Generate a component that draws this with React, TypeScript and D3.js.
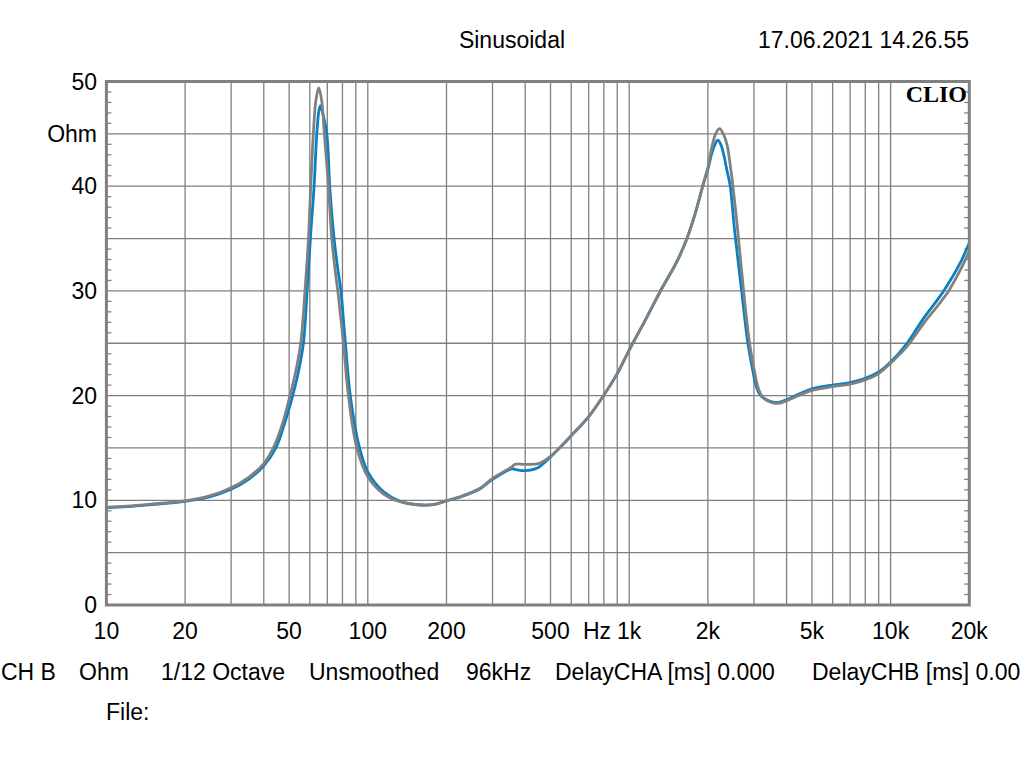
import React from "react";
import * as d3 from "d3";

// ---- data ----
const grayFreq = [10, 12, 15, 20, 25, 30, 35, 40, 43.5, 47, 50.4, 53, 55.4, 57.5, 59.3, 60.5, 61.9, 63.3, 64.9, 66.5, 68.2, 70.7, 72.8, 75.0, 77.2, 80.7, 84.3, 90.8, 100, 115, 133, 160, 180, 200, 225, 269, 300, 356, 366, 400, 449, 500, 612, 700, 800, 900, 1000, 1169, 1334, 1522, 1663, 1789, 1925, 2000, 2073, 2150, 2216, 2290, 2366, 2435, 2494, 2584, 2739, 2887, 3000, 3100, 3200, 3350, 3550, 3726, 4000, 4500, 5000, 6000, 7000, 8000, 9000, 10000, 11560, 13380, 15050, 16670, 18490, 20000];
const grayOhm = [9.35, 9.45, 9.65, 9.95, 10.45, 11.2, 12.2, 13.5, 15.0, 17.2, 20.0, 22.3, 25.0, 30.0, 35.0, 40.0, 45.0, 48.2, 49.4, 48.3, 45.0, 40.0, 35.0, 32.0, 29.5, 25.0, 20.0, 15.0, 12.25, 10.6, 9.87, 9.55, 9.6, 9.95, 10.34, 11.15, 12.1, 13.2, 13.44, 13.44, 13.5, 14.2, 16.4, 18.0, 20.05, 22.1, 24.35, 27.5, 30.25, 32.8, 35.0, 37.4, 40.3, 41.8, 43.8, 45.1, 45.5, 45.0, 44.0, 42.0, 40.0, 36.5, 30.0, 25.0, 22.6, 20.9, 20.05, 19.55, 19.3, 19.26, 19.5, 20.05, 20.5, 20.85, 21.1, 21.5, 22.1, 23.1, 24.7, 26.9, 28.5, 30.0, 32.0, 33.8];

const blueFreq = [10, 12, 15, 20, 25, 30, 35, 40, 44.5, 48, 51.6, 54.3, 56.7, 58.6, 60.3, 62.3, 63.8, 65.0, 65.9, 66.9, 69.7, 71.5, 74.3, 76.6, 78.9, 82.1, 85.7, 93, 100, 115, 133, 160, 180, 200, 225, 269, 300, 356, 366, 400, 443, 500, 612, 700, 800, 900, 1000, 1169, 1334, 1522, 1663, 1789, 1925, 2000, 2073, 2130, 2181, 2240, 2300, 2366, 2435, 2525, 2691, 2845, 2960, 3060, 3170, 3350, 3550, 3726, 4000, 4500, 5000, 6000, 7000, 8000, 9000, 10000, 11560, 13380, 15050, 15960, 18490, 20000];
const blueOhm = [9.3, 9.4, 9.6, 9.9, 10.35, 11.05, 12.0, 13.3, 15.0, 17.3, 20.0, 22.3, 25.0, 30.0, 35.0, 40.0, 45.0, 47.2, 47.7, 47.2, 45.0, 40.0, 35.0, 32.3, 30.0, 25.0, 20.0, 15.0, 12.7, 10.8, 9.9, 9.55, 9.6, 9.95, 10.3, 11.1, 12.0, 13.0, 12.95, 12.83, 13.06, 14.15, 16.4, 18.0, 20.05, 22.1, 24.35, 27.5, 30.25, 32.8, 35.0, 37.4, 40.3, 41.6, 43.2, 44.0, 44.4, 44.0, 43.0, 41.5, 40.0, 36.0, 30.0, 25.0, 22.6, 20.9, 20.05, 19.6, 19.38, 19.35, 19.6, 20.2, 20.65, 21.0, 21.25, 21.65, 22.25, 23.2, 25.0, 27.4, 29.1, 30.0, 32.7, 34.6];

const xTickValues = [10, 20, 50, 100, 200, 500, 1000, 2000, 5000, 10000, 20000];
const xTickLabels = ["10", "20", "50", "100", "200", "500", "1k", "2k", "5k", "10k", "20k"];
const yTickValues = [0, 10, 20, 30, 40, 50];
const yTickLabels = ["0", "10", "20", "30", "40", "50"];
const footerItems = ["CH B", "Ohm", "1/12 Octave", "Unsmoothed", "96kHz", "DelayCHA [ms] 0.000", "DelayCHB [ms] 0.00"];
const footerX = [1, 79, 161, 309, 466, 555, 812];

const W = 1024;
const H = 768;
const L = 106.4;
const R = 969.3;
const T = 81.5;
const B = 605;

const FONT = "'Liberation Sans', Arial, sans-serif";
const GRID = "#808080";

export default function App() {
  const x = d3.scaleLog().domain([10, 20000]).range([L, R]);
  const y = d3.scaleLinear().domain([0, 50]).range([B, T]);

  const vGrid: number[] = [];
  for (let dec = 10; dec <= 10000; dec *= 10) {
    for (let m = 1; m <= 9; m++) {
      const f = dec * m;
      if (f > 10 && f < 20000) vGrid.push(f);
    }
  }
  const hGrid = d3.range(5, 50, 5);
  const minorY = d3.range(1, 50).filter((v) => v % 5 !== 0);

  const line = d3
    .line<[number, number]>()
    .x((d) => x(d[0]))
    .y((d) => y(d[1]))
    .curve(d3.curveCatmullRom.alpha(0.5));

  const grayPts = grayFreq.map((f, i) => [f, grayOhm[i]] as [number, number]);
  const bluePts = blueFreq.map((f, i) => [f, blueOhm[i]] as [number, number]);

  return (
    <svg
      width={W}
      height={H}
      style={{ position: "absolute", left: 0, top: 0, display: "block", overflow: "hidden", background: "#fff" }}
      fontFamily={FONT}
    >
      <defs>
        <clipPath id="plotclip">
          <rect x={L} y={T} width={R - L} height={B - T} />
        </clipPath>
      </defs>
      <rect x={0} y={0} width={W} height={H} fill="#fff" />

      {/* grid */}
      {vGrid.map((f) => (
        <line key={"v" + f} x1={x(f)} x2={x(f)} y1={T} y2={B} stroke={GRID} strokeWidth={1.3} />
      ))}
      {hGrid.map((v) => (
        <line key={"h" + v} x1={L} x2={R} y1={y(v)} y2={y(v)} stroke={GRID} strokeWidth={1.3} />
      ))}
      {minorY.map((v) => (
        <g key={"m" + v}>
          <line x1={L} x2={L + 5} y1={y(v)} y2={y(v)} stroke={GRID} strokeWidth={1.3} />
          <line x1={R - 5} x2={R} y1={y(v)} y2={y(v)} stroke={GRID} strokeWidth={1.3} />
        </g>
      ))}

      {/* curves */}
      <g clipPath="url(#plotclip)">
        <path d={line(bluePts) || ""} fill="none" stroke="#0a80c4" strokeWidth={2.8} strokeLinejoin="round" />
        <path d={line(grayPts) || ""} fill="none" stroke="#808080" strokeWidth={2.8} strokeLinejoin="round" />
      </g>

      {/* frame */}
      <rect x={L} y={T} width={R - L} height={B - T} fill="none" stroke={GRID} strokeWidth={3} />

      {/* CLIO */}
      <text x={967} y={101.5} textAnchor="end" fontFamily="'Liberation Serif', 'Times New Roman', serif" fontWeight="bold" fontSize={24} fill="#000">
        CLIO
      </text>

      {/* header */}
      <text x={512} y={48} textAnchor="middle" fontSize={23} fill="#000">
        Sinusoidal
      </text>
      <text x={969} y={48} textAnchor="end" fontSize={23} fill="#000">
        17.06.2021 14.26.55
      </text>

      {/* y labels */}
      {yTickValues.map((v, i) => (
        <text key={"yl" + v} x={97} y={y(v) + 8} textAnchor="end" fontSize={23} fill="#000">
          {yTickLabels[i]}
        </text>
      ))}
      <text x={97} y={y(45) + 8} textAnchor="end" fontSize={23} fill="#000">
        Ohm
      </text>

      {/* x labels */}
      {xTickValues.map((f, i) => (
        <text key={"xl" + f} x={x(f)} y={639} textAnchor="middle" fontSize={23} fill="#000">
          {xTickLabels[i]}
        </text>
      ))}
      <text x={597} y={639} textAnchor="middle" fontSize={23} fill="#000">
        Hz
      </text>

      {/* footer */}
      {footerItems.map((t, i) => (
        <text key={"f" + i} x={footerX[i]} y={680} fontSize={23} fill="#000">
          {t}
        </text>
      ))}
      <text x={106} y={720} fontSize={23} fill="#000">
        File:
      </text>
    </svg>
  );
}
